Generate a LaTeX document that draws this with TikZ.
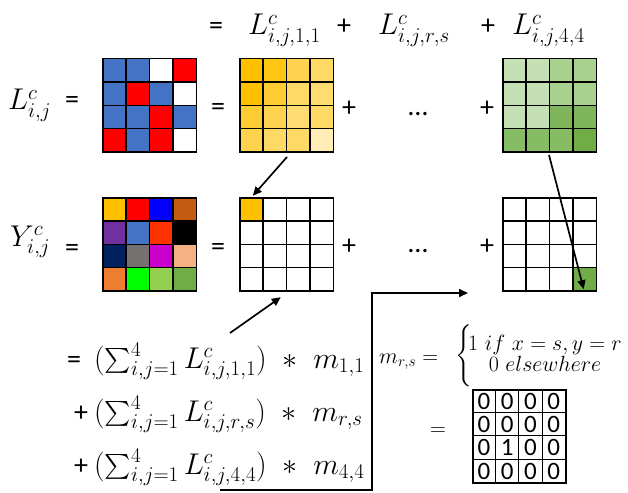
\RequirePackage{fix-cm}
\documentclass[tikz,border=0pt]{standalone}
\usepackage{amsmath}
\usepackage{fontspec}
\newfontfamily\calib{Carlito}
\usetikzlibrary{arrows.meta,calc}
\definecolor{cB}{HTML}{4472C4}
\definecolor{cR}{HTML}{FF0000}
\definecolor{cW}{HTML}{FFFFFF}
\definecolor{yA}{HTML}{FFC000}\definecolor{yB}{HTML}{FF0000}\definecolor{yC}{HTML}{0000FF}\definecolor{yD}{HTML}{C55A11}
\definecolor{yE}{HTML}{7030A0}\definecolor{yF}{HTML}{4472C4}\definecolor{yG}{HTML}{FF3300}\definecolor{yH}{HTML}{000000}
\definecolor{yI}{HTML}{002060}\definecolor{yJ}{HTML}{767171}\definecolor{yK}{HTML}{CC00CC}\definecolor{yL}{HTML}{F4B183}
\definecolor{yM}{HTML}{ED7D31}\definecolor{yN}{HTML}{00FF00}\definecolor{yO}{HTML}{92D050}\definecolor{yP}{HTML}{70AD47}
\definecolor{oA}{HTML}{FFC000}\definecolor{oB}{HTML}{FFC513}\definecolor{oC}{HTML}{FFCC33}\definecolor{oD}{HTML}{FFD34F}
\definecolor{oE}{HTML}{FFD966}\definecolor{oF}{HTML}{FFDC72}\definecolor{oG}{HTML}{FFEDB5}
\definecolor{eA}{HTML}{C5E0B4}\definecolor{eB}{HTML}{A9D18E}\definecolor{eC}{HTML}{80B65B}\definecolor{eD}{HTML}{86BC63}\definecolor{eE}{HTML}{70AD47}
\def\cw{23.375}
\def\ch{23.25}
\tikzset{
  matframe/.style={minimum width=93.5pt, minimum height=93pt, inner sep=0pt, draw=none},
  cellst/.style={draw=black, line width=1.4pt},
  txt/.style={font=\fontsize{30}{35}\selectfont, inner sep=0pt},
  ops/.style={font=\calib\fontsize{28}{33}\selectfont, inner sep=0pt, anchor=base},
  small/.style={font=\fontsize{22}{18}\selectfont, inner sep=0pt},
  digit/.style={font=\calib\fontsize{25}{30}\selectfont, inner sep=0pt},
  arr/.style={line width=1.7pt, -{Triangle[length=9pt,width=8pt]}},
}
\newcommand{\cellmat}[4]{%
  \node[matframe] (#1) at (#2,#3) {};
  \foreach \cellc [count=\k from 0] in {#4} {
    \pgfmathtruncatemacro{\cc}{mod(\k,4)}
    \pgfmathtruncatemacro{\rr}{floor(\k/4)}
    \draw[cellst, fill=\cellc] ($(#1.north west)+(\cc*\cw,\rr*\ch)$) rectangle ++(\cw,\ch);
  }
}
\begin{document}
\begin{tikzpicture}[x=1pt,y=-1pt]
\useasboundingbox (0,0) rectangle (628,492);
\fill[white] (0,0) rectangle (628,492);

% top line
\node[ops] (teq) at (216,35) {=};
\node[txt, anchor=base west] (tL11) at (248,35) {$L^{c}_{i,j,1,1}$};
\node[ops] (tp1) at (344,35) {+};
\node[txt, anchor=base west] (tLrs) at (378,35) {$L^{c}_{i,j,r,s}$};
\node[ops] (tp2) at (488,35) {+};
\node[txt, anchor=base west] (tL44) at (512,35) {$L^{c}_{i,j,4,4}$};

% row 1
\node[txt, anchor=base west] (Llab) at (8,110) {$L^{c}_{i,j}$};
\node[ops] (Leq) at (72,109) {=};
\cellmat{Lmat}{149.75}{105.5}{cB,cB,cW,cR, cB,cR,cB,cW, cB,cB,cR,cB, cR,cB,cR,cW}
\node[ops] (Leq2) at (218,115) {=};
\cellmat{Omat}{286.75}{105.5}{oA,oB,oD,oE, oA,oC,oE,oF, oC,oD,oF,oE, oD,oE,oE,oG}
\node[ops] (Lp1) at (349,116) {+};
\node[ops] (Ldots) at (418,115) {…};
\node[ops] (Lp2) at (487,116) {+};
\cellmat{Gmat}{549.75}{105.5}{eA,eA,eB,eB, eA,eA,eB,eB, eA,eA,eC,eC, eD,eD,eD,eE}

% row 2
\node[txt, anchor=base west] (Ylab) at (10,246) {$Y^{c}_{i,j}$};
\node[ops] (Yeq) at (72,256) {=};
\cellmat{Ymat}{149.75}{244.5}{yA,yB,yC,yD, yE,yF,yG,yH, yI,yJ,yK,yL, yM,yN,yO,yP}
\node[ops] (Yeq2) at (218,255) {=};
\cellmat{Zmat}{286.75}{244.5}{yA,cW,cW,cW, cW,cW,cW,cW, cW,cW,cW,cW, cW,cW,cW,cW}
\node[ops] (Yp1) at (349,254) {+};
\node[ops] (Ydots) at (418,252) {…};
\node[ops] (Yp2) at (487,254) {+};
\cellmat{Wmat}{549.75}{244.5}{cW,cW,cW,cW, cW,cW,cW,cW, cW,cW,cW,cW, cW,cW,cW,eE}

% equations
\node[ops] (e1op) at (74,368) {=};
\node[txt, anchor=base west] (e1) at (94,368) {$(\textstyle\sum_{i,j=1}^{4} L^{c}_{i,j,1,1})\ \ast\ m_{1,1}$};
\node[ops] (e2op) at (81,421) {+};
\node[txt, anchor=base west] (e2) at (94,421) {$(\textstyle\sum_{i,j=1}^{4} L^{c}_{i,j,r,s})\ \ast\ m_{r,s}$};
\node[ops] (e3op) at (81,474) {+};
\node[txt, anchor=base west] (e3) at (94,474) {$(\textstyle\sum_{i,j=1}^{4} L^{c}_{i,j,4,4})\ \ast\ m_{4,4}$};

% definition of m
\node[small, anchor=base west] (mdef) at (379,363) {$m_{r,s} =$};
\node[small, anchor=west] (mcases) at (455,356) {$\left\{\rule[-23pt]{0pt}{47pt}\!\begin{array}{@{}c@{}}1\ if\ x=s, y=r\\ 0\ elsewhere\end{array}\right.$};
\node[small] (meq) at (438,432) {$=$};

% small matrix
\node[minimum width=93pt, minimum height=93pt, inner sep=0pt, draw=black, line width=1.3pt] (Smat) at (519.5,436.5) {};
\foreach \dg [count=\k from 0] in {0,0,0,0, 0,0,0,0, 0,1,0,0, 0,0,0,0} {
  \pgfmathtruncatemacro{\cc}{mod(\k,4)}
  \pgfmathtruncatemacro{\rr}{floor(\k/4)}
  \draw[line width=1.2pt] ($(Smat.north west)+(\cc*23.25,\rr*23.25)$) rectangle ++(23.25,23.25);
  \node[digit] at ($(Smat.north west)+(\cc*23.25+11.6,\rr*23.25+12)$) {\dg};
}

% connectors
\coordinate (a1s) at (287,157);
\coordinate (a1e) at ($(Zmat.north west)+(13,-2)$);
\draw[arr] (a1s) -- (a1e);
\coordinate (a2s) at (549,155);
\coordinate (a2e) at ($(Wmat.south east)+(-13,-2)$);
\draw[arr] (a2s) -- (a2e);
\coordinate (a3s) at (230,333);
\coordinate (a3e) at ($(Zmat.south west)+(41,6)$);
\draw[arr] (a3s) -- (a3e);
\coordinate (b0) at (220,490);
\coordinate (b1) at (372,490);
\coordinate (b2) at (372,293);
\coordinate (b3) at (468,293);
\draw[arr] (b0) -- (b1) -- (b2) -- (b3);
\end{tikzpicture}
\end{document}
